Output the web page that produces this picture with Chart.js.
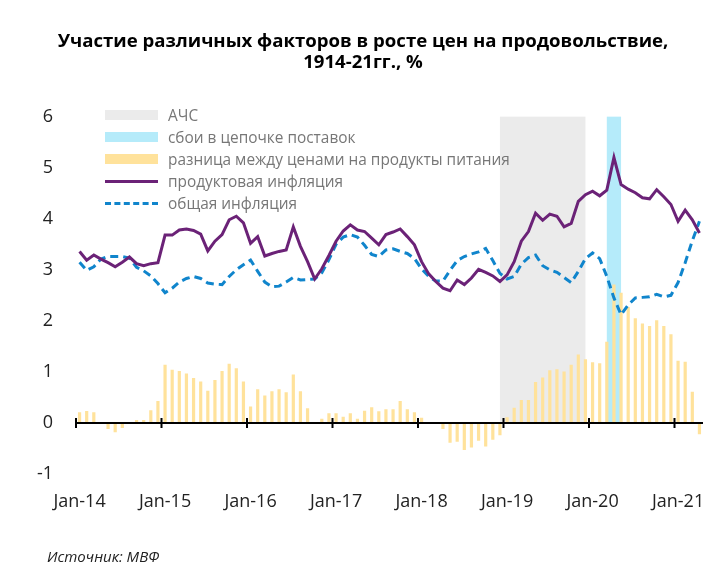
<!DOCTYPE html>
<html lang="ru">
<head>
    <meta charset="UTF-8">
    <title>Участие различных факторов в росте цен на продовольствие</title>
    <script src="https://cdn.jsdelivr.net/npm/chart.js"></script>
    <style>
        body { margin: 0; background: #fff; font-family: "Open Sans", sans-serif; }
        #wrap { position: relative; width: 726px; height: 579px; }
        #legend { position: absolute; left: 105px; top: 104px; font-size: 15.4px; color: #777; }
        #legend div { height: 22px; display: flex; align-items: center; }
        #legend span.key { display: inline-block; width: 53px; margin-right: 10px; }
        #source { position: absolute; left: 47px; top: 546px; font-size: 15px; font-style: italic; color: #222; }
    </style>
</head>
<body>
<div id="wrap">
    <canvas id="chart" width="726" height="579"></canvas>
    <div id="legend">
        <div><span class="key" style="height:10px;background:#ebebeb"></span>АЧС</div>
        <div><span class="key" style="height:10px;background:#b5ebfa"></span>сбои в цепочке поставок</div>
        <div><span class="key" style="height:10px;background:#ffe29b"></span>разница между ценами на продукты питания</div>
        <div><span class="key" style="height:0;border-top:3px solid #6b2277"></span>продуктовая инфляция</div>
        <div><span class="key" style="height:0;border-top:3px dashed #1085cc"></span>общая инфляция</div>
    </div>
    <div id="source">Источник: МВФ</div>
</div>
<script>
    const monthNames = ['Jan','Feb','Mar','Apr','May','Jun','Jul','Aug','Sep','Oct','Nov','Dec'];
    const years = ['14','15','16','17','18','19','20','21'];
    const monthCount = 88; // Jan-14 .. Apr-21

    const foodInflation = [
        3.36, 3.19, 3.29, 3.21, 3.14, 3.06, 3.15, 3.25, 3.12, 3.08, 3.12, 3.14,
        3.68, 3.68, 3.78, 3.80, 3.77, 3.70, 3.37, 3.56, 3.69, 3.98, 4.05, 3.92,
        3.52, 3.65, 3.27, 3.32, 3.36, 3.39, 3.84, 3.46, 3.16, 2.82, 3.02, 3.28,
        3.56, 3.76, 3.88, 3.78, 3.75, 3.62, 3.49, 3.69, 3.74, 3.80, 3.65, 3.49,
        3.16, 2.92, 2.77, 2.64, 2.59, 2.80, 2.71, 2.84, 3.01, 2.95, 2.88, 2.77,
        2.90, 3.16, 3.56, 3.75, 4.11, 3.97, 4.09, 4.05, 3.84, 3.91, 4.34, 4.47,
        4.54, 4.45, 4.56, 5.20, 4.67, 4.58, 4.51, 4.41, 4.39, 4.57, 4.43, 4.28,
        3.95, 4.17, 3.98, 3.72
    ];

    const headlineInflation = [
        3.15, 2.99, 3.06, 3.21, 3.26, 3.26, 3.26, 3.23, 3.05, 2.98, 2.88, 2.73,
        2.55, 2.64, 2.76, 2.83, 2.87, 2.83, 2.74, 2.72, 2.71, 2.87, 3.00, 3.10,
        3.19, 2.97, 2.76, 2.67, 2.68, 2.76, 2.85, 2.80, 2.81, 2.82, 2.94, 3.20,
        3.50, 3.64, 3.69, 3.64, 3.48, 3.30, 3.26, 3.39, 3.41, 3.36, 3.32, 3.22,
        3.02, 2.87, 2.78, 2.78, 2.99, 3.18, 3.26, 3.31, 3.35, 3.42, 3.18, 2.93,
        2.82, 2.87, 3.11, 3.24, 3.29, 3.08, 3.00, 2.95, 2.85, 2.75, 2.97, 3.22,
        3.33, 3.22, 2.87, 2.45, 2.12, 2.31, 2.45, 2.46, 2.47, 2.52, 2.47, 2.50,
        2.75, 3.14, 3.57, 3.95
    ];

    const priceGap = [
        0.21, 0.235, 0.21, 0, -0.12, -0.18, -0.10, 0, 0.06, 0.06, 0.25, 0.43,
        1.14, 1.04, 1.02, 0.97, 0.88, 0.81, 0.63, 0.84, 1.02, 1.16, 1.07, 0.81,
        0.32, 0.66, 0.54, 0.62, 0.66, 0.60, 0.95, 0.62, 0.29, 0, 0.08, 0.19,
        0.19, 0.12, 0.19, 0.08, 0.24, 0.31, 0.23, 0.27, 0.27, 0.43, 0.27, 0.21,
        0.10, 0, 0, -0.12, -0.39, -0.37, -0.53, -0.48, -0.35, -0.46, -0.33, -0.24,
        0.11, 0.30, 0.45, 0.45, 0.80, 0.89, 1.03, 1.05, 1.01, 1.14, 1.34, 1.25,
        1.19, 1.17, 1.59, 2.71, 2.55, 2.27, 2.05, 1.95, 1.90, 2.01, 1.90, 1.74,
        1.22, 1.20, 0.61, -0.22
    ];

    // shaded periods: from the middle of the first month to the middle of the last
    const asfSpan = ['Dec-18', 'Dec-19'];
    const supplySpan = ['Mar-20', 'May-20'];
    const shadeTop = 6;

    const yTicks = [-1, 0, 1, 2, 3, 4, 5, 6];

    const labels = [];
    for (let i = 0; i < monthCount; i++) {
        labels.push(monthNames[i % 12] + '-' + years[Math.floor(i / 12)]);
    }

    const shading = {
        id: 'shading',
        beforeDatasetsDraw(chart) {
            const { ctx, scales: { x, y } } = chart;
            const spans = [[asfSpan, '#ebebeb'], [supplySpan, '#b5ebfa']];
            ctx.save();
            spans.forEach(([span, colour]) => {
                const x0 = x.getPixelForValue(labels.indexOf(span[0]));
                const x1 = x.getPixelForValue(labels.indexOf(span[1]));
                const y0 = y.getPixelForValue(shadeTop);
                const y1 = y.getPixelForValue(0);
                ctx.fillStyle = colour;
                ctx.fillRect(x0, y0, x1 - x0, y1 - y0);
            });
            ctx.restore();
        }
    };

    const zeroAxis = {
        id: 'zeroAxis',
        afterDatasetsDraw(chart) {
            const { ctx, chartArea, scales: { x, y } } = chart;
            const y0 = y.getPixelForValue(0);
            const half = (x.getPixelForValue(1) - x.getPixelForValue(0)) / 2;
            ctx.save();
            ctx.strokeStyle = '#000';
            ctx.lineWidth = 2;
            ctx.beginPath();
            ctx.moveTo(chartArea.left, y0);
            ctx.lineTo(chartArea.right, y0);
            for (let i = 0; i < monthCount; i += 12) {
                const xp = x.getPixelForValue(i) - half;
                ctx.moveTo(xp, y0 - 5);
                ctx.lineTo(xp, y0 + 5);
            }
            ctx.stroke();
            ctx.restore();
        }
    };

    new Chart(document.getElementById('chart'), {
        type: 'bar',
        data: {
            labels: labels,
            datasets: [
                {
                    type: 'line',
                    label: 'продуктовая инфляция',
                    data: foodInflation,
                    borderColor: '#6b2277',
                    borderWidth: 3,
                    pointRadius: 0,
                    tension: 0,
                    order: 1
                },
                {
                    type: 'line',
                    label: 'общая инфляция',
                    data: headlineInflation,
                    borderColor: '#1085cc',
                    borderWidth: 3,
                    borderDash: [8, 5],
                    pointRadius: 0,
                    tension: 0,
                    order: 2
                },
                {
                    label: 'разница между ценами на продукты питания',
                    data: priceGap,
                    backgroundColor: '#ffe29b',
                    categoryPercentage: 1,
                    barPercentage: 0.45,
                    order: 3
                }
            ]
        },
        options: {
            responsive: false,
            animation: false,
            layout: { padding: { left: 23, right: 23, top: 0, bottom: 65 } },
            plugins: {
                legend: { display: false },
                tooltip: { enabled: false },
                title: {
                    display: true,
                    text: ['Участие различных факторов в росте цен на продовольствие,', '1914-21гг., %'],
                    color: '#000',
                    font: { family: 'Open Sans', size: 18.6, weight: 'bold', lineHeight: 1.12 },
                    padding: { top: 31, bottom: 44 }
                }
            },
            scales: {
                x: {
                    grid: { display: false, drawTicks: false },
                    border: { display: false },
                    ticks: {
                        autoSkip: false,
                        maxRotation: 0,
                        padding: 17,
                        color: '#222',
                        font: { family: 'Open Sans', size: 18 },
                        callback: (v, i) => (i % 12 === 0 ? labels[i] : '')
                    },
                    afterFit: (s) => { s.height = 40; }
                },
                y: {
                    min: -1,
                    max: 6,
                    grid: { display: false, drawTicks: false },
                    border: { display: false },
                    afterBuildTicks: (s) => { s.ticks = yTicks.map(v => ({ value: v })); },
                    ticks: {
                        padding: 23,
                        color: '#222',
                        font: { family: 'Open Sans', size: 18 }
                    },
                    afterFit: (s) => { s.width = 53; }
                }
            }
        },
        plugins: [shading, zeroAxis]
    });
</script>
</body>
</html>
